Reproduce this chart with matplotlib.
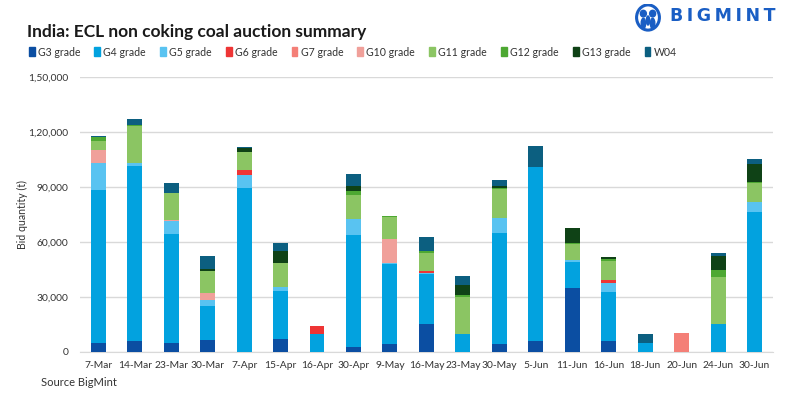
import matplotlib
matplotlib.use("Agg")
import matplotlib.pyplot as plt
from matplotlib.patches import Patch, Circle, Ellipse
import numpy as np

plt.rcParams['font.family'] = ['Lato', 'DejaVu Sans']

dates = ["7-Mar", "14-Mar", "23-Mar", "30-Mar", "7-Apr", "15-Apr", "16-Apr", "30-Apr", "9-May",
         "16-May", "23-May", "30-May", "5-Jun", "11-Jun", "16-Jun", "18-Jun", "20-Jun", "24-Jun", "30-Jun"]

g3  = [4700, 6000, 4700, 6400, 0, 6900, 0, 2600, 4200, 15100, 0, 4200, 5800, 34800, 5800, 0, 0, 0, 0]
g4  = [83700, 95600, 59800, 18600, 89600, 26300, 9700, 61300, 43800, 27400, 9700, 60700, 95200, 14200, 26800, 4750, 0, 15100, 76400]
g5  = [14800, 1300, 6900, 3300, 7100, 2200, 0, 8750, 550, 550, 0, 8200, 0, 1100, 4900, 0, 0, 0, 5500]
g6  = [0, 0, 0, 0, 2400, 0, 4400, 0, 0, 1100, 0, 0, 0, 0, 1650, 0, 0, 0, 0]
g7  = [0, 0, 0, 0, 0, 0, 0, 0, 0, 0, 0, 0, 0, 0, 0, 0, 10200, 0, 0]
g10 = [7100, 0, 730, 3500, 0, 0, 0, 0, 13100, 0, 0, 0, 0, 0, 0, 0, 0, 0, 0]
g11 = [4900, 20200, 14600, 12000, 10200, 13100, 0, 13100, 12000, 9850, 20250, 15900, 0, 8750, 10400, 0, 0, 25700, 10200]
g12 = [2200, 550, 0, 300, 0, 0, 0, 2200, 550, 1100, 1100, 550, 0, 550, 1100, 0, 0, 3800, 350]
g13 = [0, 0, 0, 1000, 2200, 6600, 0, 2700, 0, 0, 5500, 1100, 0, 8200, 1100, 0, 0, 7650, 10200]
w04 = [550, 3650, 5500, 7300, 550, 4400, 0, 6600, 0, 7650, 4900, 3300, 11500, 0, 0, 4900, 0, 1650, 2750]

series = [("G3 grade", g3, "#0B4EA2"), ("G4 grade", g4, "#02A2DF"), ("G5 grade", g5, "#59C3F1"),
          ("G6 grade", g6, "#EE3535"), ("G7 grade", g7, "#F47F77"), ("G10 grade", g10, "#F0A09A"),
          ("G11 grade", g11, "#8BC563"), ("G12 grade", g12, "#4DA832"), ("G13 grade", g13, "#0F4216"),
          ("W04", w04, "#0C5F80")]

yticks = [0, 30000, 60000, 90000, 120000, 150000]
ytick_labels = ["0", "30,000", "60,000", "90,000", "1,20,000", "1,50,000"]

fig = plt.figure(figsize=(8, 4), dpi=100)
ax = fig.add_axes([0.1, 0.121, 0.866, 0.686])

x = np.arange(len(dates))
bottom = np.zeros(len(dates))
for name, vals, col in series:
    v = np.array(vals, dtype=float)
    ax.bar(x, v, bottom=bottom, width=0.41, color=col, label=name, zorder=3)
    bottom += v

ax.set_xlim(-0.5, len(dates) - 0.5)
ax.set_ylim(0, 150000)
ax.set_yticks(yticks)
ax.set_yticklabels(ytick_labels)
ax.set_xticks(x)
ax.set_xticklabels(dates)
ax.grid(axis='y', color='#D9D9D9', linewidth=1, zorder=0)
for s in ['top', 'right', 'left']:
    ax.spines[s].set_visible(False)
ax.spines['bottom'].set_color('#D9D9D9')
ax.tick_params(axis='both', length=0, labelsize=7.4, colors='#333333')
ax.tick_params(axis='x', pad=7)
ax.tick_params(axis='y', pad=8.5)
ax.set_ylabel("Bid quantity (t)", fontsize=7.6, color='#333333')
ax.yaxis.set_label_coords(-0.075, 0.5)

fig.text(0.034, 0.92, "India: ECL non coking coal auction summary", fontsize=12.5, fontweight='bold',
         color='#1a1a1a', va='center')

handles = [Patch(color=c, label=n) for n, _, c in series]
fig.legend(handles=handles, loc='center left', bbox_to_anchor=(0.036, 0.87), ncol=10, frameon=False,
           fontsize=7.6, handlelength=0.55, handleheight=0.9, handletextpad=0.3, columnspacing=1.34,
           labelcolor='#333333', borderaxespad=0, borderpad=0)

fig.text(0.051, 0.043, "Source BigMint", fontsize=8, color='#333333', va='center')

# logo
logo_col = '#1A5EC4'
fig.text(0.838, 0.96, "B\u2009I\u2009G\u2009M\u2009I\u2009N\u2009T", fontsize=12.5, fontweight='bold',
         color=logo_col, va='center', family='DejaVu Sans')
lax = fig.add_axes([0.793, 0.915, 0.034, 0.075])
lax.set_xlim(0, 1)
lax.set_ylim(0, 1)
lax.axis('off')
lax.add_patch(Circle((0.5, 0.55), 0.42, fill=False, ec=logo_col, lw=2.2))
lax.add_patch(Circle((0.33, 0.68), 0.11, color=logo_col))
lax.add_patch(Circle((0.67, 0.68), 0.11, color=logo_col))
lax.add_patch(Ellipse((0.33, 0.35), 0.16, 0.35, color=logo_col))
lax.add_patch(Ellipse((0.67, 0.35), 0.16, 0.35, color=logo_col))
lax.add_patch(Ellipse((0.5, 0.45), 0.12, 0.3, color=logo_col))

fig.savefig("out.png", dpi=100)
